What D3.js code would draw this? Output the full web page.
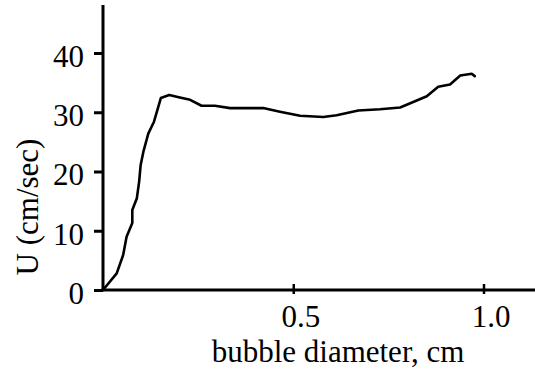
<!DOCTYPE html>
<html>
<head>
<meta charset="utf-8">
<script src="https://cdn.jsdelivr.net/npm/d3@7"></script>
<style>
body { margin: 0; background: #fff; }
svg { display: block; }
</style>
</head>
<body>
<svg width="535" height="372"></svg>
<script>
var svg = d3.select('svg')
var width = +svg.attr('width')
var height = +svg.attr('height')

// bubble diameter (cm) and rise velocity U (cm/sec)
var diameters = [0, 0.036, 0.053, 0.062, 0.077, 0.077, 0.089, 0.095, 0.099, 0.106, 0.119, 0.134, 0.143, 0.152,
	0.174, 0.202, 0.229, 0.259, 0.294, 0.334, 0.421, 0.465, 0.518, 0.579, 0.614, 0.671, 0.728, 0.781,
	0.851, 0.881, 0.912, 0.939, 0.969, 0.977]
var velocities = [0, 2.8, 5.9, 9.0, 11.3, 13.5, 15.5, 18.3, 21.1, 23.3, 26.4, 28.4, 30.4, 32.4,
	32.9, 32.5, 32.1, 31.1, 31.1, 30.7, 30.7, 30.1, 29.4, 29.2, 29.5, 30.3, 30.5, 30.8,
	32.7, 34.3, 34.7, 36.2, 36.5, 36.1]
var xTicks = [0.5, 1.0]
var xTickLabels = ['0.5', '1.0']
var yTicks = [0, 10, 20, 30, 40]

var font = '"Liberation Serif", "Times New Roman", serif'
var fontSize = 31

var x = d3.scaleLinear().domain([0, 1]).range([103, 483.5])
var y = d3.scaleLinear().domain([0, 40]).range([290, 53])

var points = diameters.map(function(d, i) { return {d: d, u: velocities[i]} })

//Axis lines
svg.append('line')
	.attr('x1', x(0)).attr('x2', x(0))
	.attr('y1', 5).attr('y2', y(0))
	.attr('stroke', 'black').attr('stroke-width', 3)
svg.append('line')
	.attr('x1', x(0) - 1.5).attr('x2', width)
	.attr('y1', y(0)).attr('y2', y(0))
	.attr('stroke', 'black').attr('stroke-width', 3)

//Y axis ticks
var yAxis = svg.append('g')
	.attr('transform', 'translate(' + x(0) + ',0)')
	.call(d3.axisLeft(y).tickValues(yTicks).tickSize(9).tickPadding(10).tickFormat(d3.format('d')))
yAxis.select('.domain').remove()
yAxis.selectAll('.tick line').attr('stroke-width', 3)
yAxis.selectAll('.tick text')
	.attr('font-family', font)
	.attr('font-size', fontSize)
	.attr('fill', 'black')
	.attr('dy', '0.43em')

//X axis ticks (they cross the axis line)
var xAxis = svg.append('g')
	.attr('transform', 'translate(0,' + y(0) + ')')
	.call(d3.axisBottom(x).tickValues(xTicks).tickFormat(function(d, i) { return xTickLabels[i] }))
xAxis.select('.domain').remove()
xAxis.selectAll('.tick line')
	.attr('y1', -6).attr('y2', 4)
	.attr('stroke-width', 2.5)
xAxis.selectAll('.tick text')
	.attr('font-family', font)
	.attr('font-size', fontSize)
	.attr('fill', 'black')
	.attr('y', 0)
	.attr('dy', 37)
	.attr('dx', 7)

//Axis titles
svg.append('text')
	.attr('x', 338)
	.attr('y', 362)
	.attr('text-anchor', 'middle')
	.attr('font-family', font)
	.attr('font-size', fontSize)
	.text('bubble diameter, cm')

svg.append('text')
	.attr('transform', 'translate(38,207) rotate(-90)')
	.attr('text-anchor', 'middle')
	.attr('font-family', font)
	.attr('font-size', fontSize)
	.text('U (cm/sec)')

//Curve
var line = d3.line()
	.x(function(p) { return x(p.d) })
	.y(function(p) { return y(p.u) })

svg.append('path')
	.datum(points)
	.attr('d', line)
	.attr('fill', 'none')
	.attr('stroke', 'black')
	.attr('stroke-width', 2.6)
	.attr('stroke-linejoin', 'round')
	.attr('stroke-linecap', 'round')
</script>
</body>
</html>
